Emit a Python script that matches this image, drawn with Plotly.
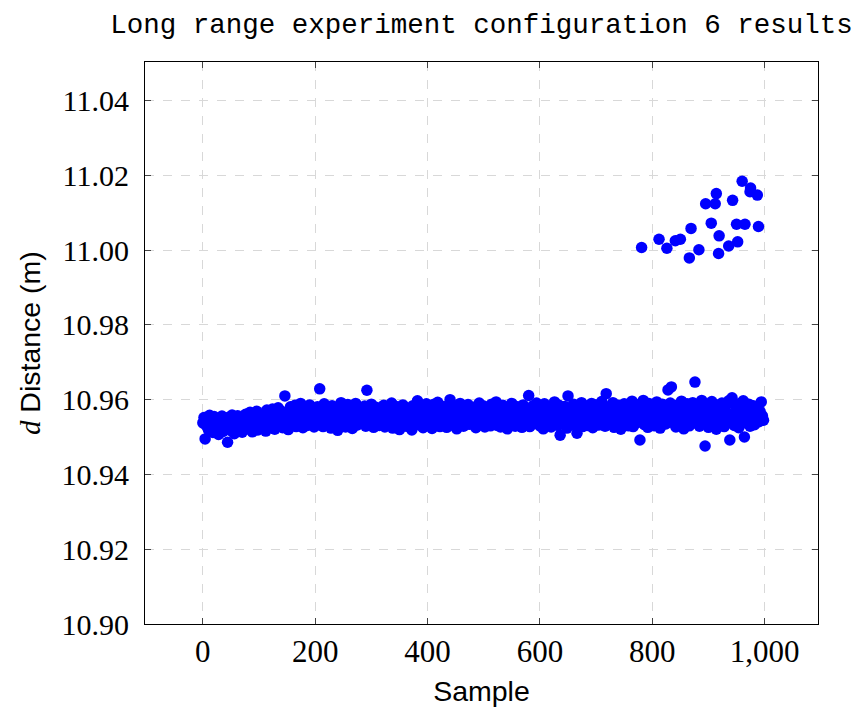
import plotly.graph_objects as go

# ---- data ----
band_samples = list(range(0, 1000, 2))
band_values = [
    10.9538, 10.9552, 10.9495, 10.9531, 10.9547, 10.9519, 10.9558, 10.9526, 10.9541, 10.9512, 10.9555, 10.9533, 10.9521, 10.9549, 10.9507, 10.9544, 10.9529, 10.9556, 10.9515, 10.9537,
    10.9548, 10.9524, 10.9486, 10.9553, 10.9533, 10.9517, 10.9559, 10.9540, 10.9509, 10.9546, 10.9528, 10.9557, 10.9520, 10.9536, 10.9551, 10.9513, 10.9543, 10.9530, 10.9561, 10.9522,
    10.9545, 10.9526, 10.9566, 10.9535, 10.9514, 10.9552, 10.9541, 10.9527, 10.9569, 10.9519, 10.9548, 10.9533, 10.9561, 10.9523, 10.9556, 10.9538, 10.9516, 10.9572, 10.9531, 10.9549,
    10.9558, 10.9529, 10.9575, 10.9540, 10.9521, 10.9563, 10.9547, 10.9578, 10.9532, 10.9552, 10.9569, 10.9525, 10.9543, 10.9610, 10.9537, 10.9566, 10.9520, 10.9555, 10.9581, 10.9534,
    10.9562, 10.9541, 10.9585, 10.9528, 10.9557, 10.9572, 10.9536, 10.9590, 10.9549, 10.9525, 10.9567, 10.9544, 10.9579, 10.9531, 10.9560, 10.9586, 10.9539, 10.9553, 10.9574, 10.9527,
    10.9565, 10.9545, 10.9581, 10.9533, 10.9629, 10.9556, 10.9571, 10.9528, 10.9589, 10.9548, 10.9562, 10.9537, 10.9577, 10.9552, 10.9524, 10.9584, 10.9541, 10.9568, 10.9530, 10.9559,
    10.9518, 10.9573, 10.9546, 10.9592, 10.9535, 10.9561, 10.9580, 10.9527, 10.9554, 10.9587, 10.9539, 10.9566, 10.9549, 10.9523, 10.9578, 10.9544, 10.9590, 10.9532, 10.9563, 10.9551,
    10.9575, 10.9538, 10.9560, 10.9547, 10.9583, 10.9529, 10.9625, 10.9556, 10.9571, 10.9534, 10.9588, 10.9550, 10.9526, 10.9567, 10.9580, 10.9542, 10.9559, 10.9531, 10.9576, 10.9553,
    10.9540, 10.9585, 10.9527, 10.9563, 10.9548, 10.9579, 10.9535, 10.9556, 10.9591, 10.9524, 10.9569, 10.9545, 10.9582, 10.9532, 10.9558, 10.9520, 10.9574, 10.9550, 10.9586, 10.9537,
    10.9561, 10.9529, 10.9577, 10.9543, 10.9566, 10.9552, 10.9519, 10.9584, 10.9538, 10.9555, 10.9572, 10.9597, 10.9533, 10.9560, 10.9547, 10.9581, 10.9525, 10.9568, 10.9541, 10.9589,
    10.9550, 10.9532, 10.9576, 10.9559, 10.9523, 10.9587, 10.9544, 10.9570, 10.9536, 10.9593, 10.9554, 10.9528, 10.9565, 10.9548, 10.9582, 10.9539, 10.9561, 10.9526, 10.9575, 10.9553,
    10.9600, 10.9545, 10.9567, 10.9531, 10.9584, 10.9556, 10.9522, 10.9573, 10.9540, 10.9590, 10.9549, 10.9563, 10.9529, 10.9579, 10.9542, 10.9558, 10.9587, 10.9534, 10.9569, 10.9551,
    10.9537, 10.9580, 10.9555, 10.9525, 10.9571, 10.9546, 10.9591, 10.9533, 10.9562, 10.9550, 10.9583, 10.9527, 10.9566, 10.9541, 10.9576, 10.9557, 10.9530, 10.9588, 10.9548, 10.9564,
    10.9543, 10.9594, 10.9531, 10.9560, 10.9575, 10.9527, 10.9552, 10.9585, 10.9539, 10.9568, 10.9547, 10.9522, 10.9579, 10.9556, 10.9535, 10.9590, 10.9544, 10.9571, 10.9529, 10.9559,
    10.9581, 10.9538, 10.9565, 10.9550, 10.9526, 10.9586, 10.9544, 10.9572, 10.9533, 10.9557, 10.9611, 10.9528, 10.9569, 10.9548, 10.9584, 10.9536, 10.9562, 10.9591, 10.9541, 10.9554,
    10.9530, 10.9577, 10.9558, 10.9522, 10.9589, 10.9546, 10.9567, 10.9535, 10.9580, 10.9552, 10.9527, 10.9573, 10.9540, 10.9594, 10.9549, 10.9563, 10.9531, 10.9585, 10.9505, 10.9556,
    10.9569, 10.9538, 10.9582, 10.9547, 10.9524, 10.9610, 10.9559, 10.9576, 10.9533, 10.9551, 10.9588, 10.9542, 10.9565, 10.9510, 10.9579, 10.9536, 10.9557, 10.9592, 10.9528, 10.9570,
    10.9545, 10.9583, 10.9531, 10.9561, 10.9574, 10.9549, 10.9590, 10.9525, 10.9567, 10.9540, 10.9586, 10.9555, 10.9532, 10.9578, 10.9547, 10.9595, 10.9537, 10.9563, 10.9529, 10.9616,
    10.9553, 10.9581, 10.9534, 10.9568, 10.9544, 10.9592, 10.9526, 10.9560, 10.9577, 10.9539, 10.9585, 10.9550, 10.9521, 10.9573, 10.9546, 10.9589, 10.9535, 10.9564, 10.9557, 10.9530,
    10.9572, 10.9543, 10.9596, 10.9528, 10.9561, 10.9584, 10.9538, 10.9555, 10.9587, 10.9492, 10.9568, 10.9547, 10.9598, 10.9533, 10.9575, 10.9552, 10.9526, 10.9590, 10.9541, 10.9563,
    10.9549, 10.9581, 10.9530, 10.9566, 10.9594, 10.9541, 10.9573, 10.9524, 10.9558, 10.9588, 10.9545, 10.9569, 10.9535, 10.9580, 10.9626, 10.9552, 10.9591, 10.9634, 10.9539, 10.9575,
    10.9562, 10.9527, 10.9585, 10.9548, 10.9571, 10.9533, 10.9596, 10.9556, 10.9522, 10.9579, 10.9543, 10.9589, 10.9565, 10.9530, 10.9575, 10.9551, 10.9592, 10.9538, 10.9647, 10.9568,
    10.9545, 10.9583, 10.9529, 10.9561, 10.9598, 10.9537, 10.9574, 10.9476, 10.9552, 10.9588, 10.9526, 10.9567, 10.9543, 10.9595, 10.9532, 10.9578, 10.9556, 10.9521, 10.9586, 10.9549,
    10.9570, 10.9534, 10.9591, 10.9555, 10.9528, 10.9580, 10.9546, 10.9563, 10.9597, 10.9492, 10.9539, 10.9605, 10.9560, 10.9531, 10.9584, 10.9550, 10.9573, 10.9525, 10.9590, 10.9542,
    10.9566, 10.9597, 10.9500, 10.9579, 10.9537, 10.9556, 10.9588, 10.9529, 10.9571, 10.9546, 10.9584, 10.9533, 10.9562, 10.9550, 10.9577, 10.9541, 10.9568, 10.9594, 10.9557, 10.9545,
]

outlier_samples = [781, 812, 826, 841, 850, 869, 866, 883, 895, 914, 912, 905,
                   919, 918, 936, 943, 952, 950, 965, 960, 975, 974, 987, 989]
outlier_values = [11.0007, 11.0029, 11.0005, 11.0025, 11.0029, 11.0058, 10.9979, 11.0001,
                  11.0124, 11.0151, 11.0124, 11.0072, 11.0038, 10.9991, 11.0011, 11.0133,
                  11.0022, 11.0069, 11.0069, 11.0184, 11.0166, 11.0156, 11.0147, 11.0063]

y_ticks = [10.90, 10.92, 10.94, 10.96, 10.98, 11.00, 11.02, 11.04]
x_ticks = [0, 200, 400, 600, 800, 1000]

samples = band_samples + outlier_samples
values = band_values + outlier_values

BLUE = "#0000ff"
SERIF = "Liberation Serif, DejaVu Serif, serif"
SANS = "Liberation Sans, Arial, sans-serif"

fig = go.Figure()
fig.add_trace(go.Scatter(
    x=samples, y=values, mode="markers",
    marker=dict(color=BLUE, size=11.5, line=dict(width=0)),
    showlegend=False, hoverinfo="x+y",
))

fig.update_layout(
    width=852, height=713,
    margin=dict(l=145, r=34, t=62, b=85),
    paper_bgcolor="white", plot_bgcolor="white",
    title=dict(
        text="Long range experiment configuration 6 results",
        font=dict(family="Liberation Mono, DejaVu Sans Mono, monospace", size=27.5, color="black"),
        x=0.5, xref="paper", xanchor="center",
        y=1 - 23 / 713, yref="container", yanchor="middle",
    ),
)

fig.update_xaxes(
    range=[-103, 1095],
    tickvals=x_ticks, tickformat=",d",
    tickfont=dict(family=SERIF, size=31, color="black"),
    ticks="inside", ticklen=6, tickcolor="#444", tickwidth=1,
    showline=True, linecolor="black", linewidth=1.2, mirror="allticks",
    showgrid=True, gridcolor="#d8d8d8", griddash="dash", gridwidth=1,
    zeroline=False,
    title=dict(text="Sample", font=dict(family=SANS, size=28.5, color="black"), standoff=12),
)
fig.update_yaxes(
    range=[10.90, 11.0503],
    tickvals=y_ticks, tickformat=".2f",
    tickfont=dict(family=SERIF, size=30, color="black"),
    ticks="inside", ticklen=6, tickcolor="#444", tickwidth=1,
    ticklabelstandoff=9,
    showline=True, linecolor="black", linewidth=1.2, mirror="allticks",
    showgrid=True, gridcolor="#d8d8d8", griddash="dash", gridwidth=1,
    zeroline=False,
    title=dict(
        text="<span style=\"font-family:'Liberation Serif';font-style:italic\">d</span> Distance (m)",
        font=dict(family=SANS, size=28.5, color="black"), standoff=12,
    ),
)

fig.write_html("out.html", config={"displayModeBar": False},
               post_script="document.body.style.margin='0';")
